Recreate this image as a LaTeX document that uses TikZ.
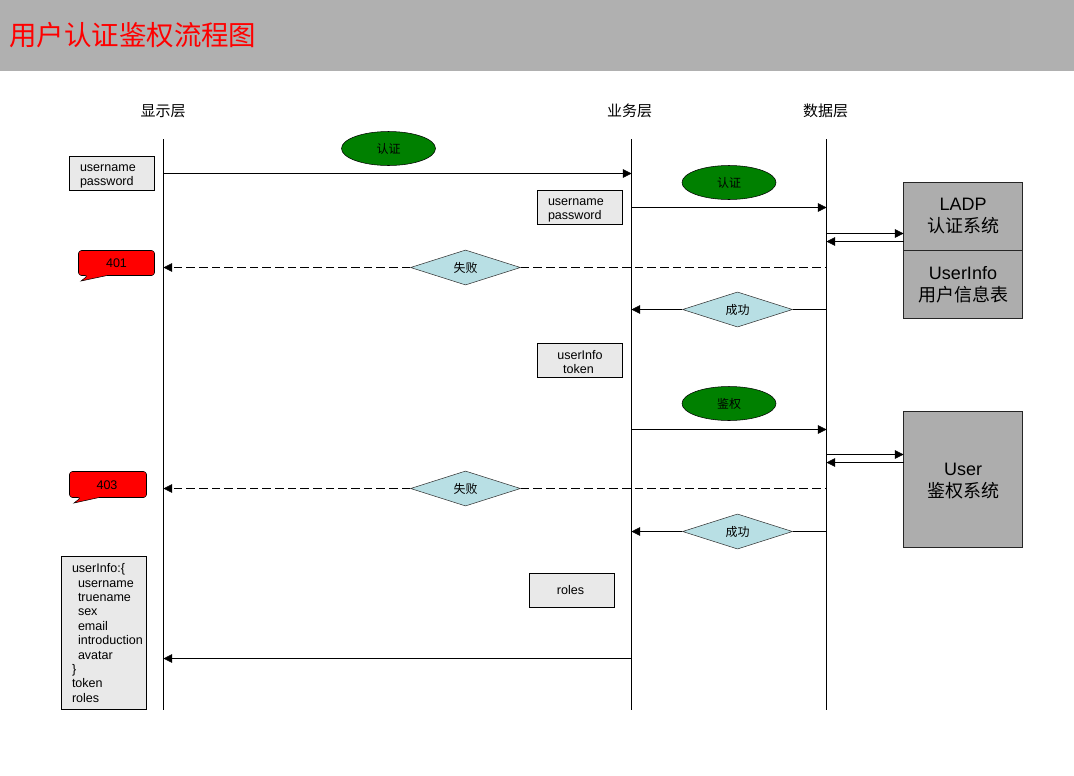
\documentclass[tikz,border=0pt]{standalone}
\usepackage{fontspec}
\setmainfont{Liberation Sans}
\newfontfamily\cjk{Noto Sans CJK SC}
\usetikzlibrary{arrows.meta,shapes.geometric}
\definecolor{band}{HTML}{B0B0B0}
\definecolor{boxgray}{HTML}{E9E9E9}
\definecolor{sysgray}{HTML}{ADADAD}
\definecolor{leaf}{HTML}{008000}
\definecolor{pale}{HTML}{B8DFE4}
\newcommand{\dropline}{\rule{0pt}{9.2pt}}
\tikzset{
  x=0.75pt,y=-0.75pt,
  line width=0.75pt,
  life/.style={draw=black},
  msg/.style={draw=black,-{Triangle[length=6.5pt,width=6.5pt]}},
  dsh/.style={dash pattern=on 6.5pt off 3pt},
  txtsmall/.style={font=\fontsize{9.4}{10.5}\selectfont},
  leftbox/.style={draw=black,fill=boxgray,txtsmall,minimum width=63.75pt,minimum height=25.5pt,inner xsep=7.9pt,inner ysep=0pt,text width=48pt,align=left},
  midbox/.style={draw=black,fill=boxgray,txtsmall,minimum width=63.75pt,minimum height=25.5pt,inner sep=0pt,align=center},
  pill/.style={ellipse,draw=black,fill=leaf,minimum width=70.5pt,minimum height=25.5pt,inner sep=0pt,font=\cjk\fontsize{9}{10.5}\selectfont},
  gem/.style={diamond,draw=black!80,fill=pale,minimum width=82.5pt,minimum height=25.5pt,inner sep=0pt,font=\cjk\fontsize{9}{10.5}\selectfont},
  sysbox/.style={draw=black!85,fill=sysgray,minimum width=89.25pt,inner sep=0pt,align=center,font=\fontsize{13.5}{16.5}\selectfont},
  head/.style={inner sep=0pt,font=\cjk\fontsize{11.25}{13}\selectfont},
  bubble/.style={draw=black,fill=red},
  bubtext/.style={inner sep=0pt,txtsmall},
}
\begin{document}
\begin{tikzpicture}
\useasboundingbox (0,0) rectangle (1074,775);
\fill[band] (0,0) rectangle (1074,71);
\node[anchor=west,inner sep=0pt,text=red,font=\cjk\fontsize{20.6}{24}\selectfont] (title) at (9,35.5) {用户认证鉴权流程图};

\node[head] (h1) at (163,111) {显示层};
\node[head] (h2) at (629.5,111) {业务层};
\node[head] (h3) at (825.5,111) {数据层};

% lifelines
\coordinate (l1t) at (163.5,139); \coordinate (l1b) at (163.5,710);
\coordinate (l2t) at (631.5,139); \coordinate (l2b) at (631.5,710);
\coordinate (l3t) at (826.5,139); \coordinate (l3b) at (826.5,710);
\draw[life] (l1t) -- (l1b);
\draw[life] (l2t) -- (l2b);
\draw[life] (l3t) -- (l3b);

% boxes
\node[leftbox] (b1) at (112,173.5) {\dropline username\\password};
\node[leftbox] (b2) at (580,207.5) {\dropline username\\password};
\node[midbox] (b3) at (580,360.5) {\dropline userInfo\\\mbox{token\kern2.25pt}};
\node[midbox] (b4) at (572,590.5) {\mbox{roles\kern2.25pt}};
\node[leftbox,minimum height=114.75pt,font=\fontsize{9.4}{10.8}\selectfont] (b5) at (104,633) {userInfo:\{\\
\hspace*{4.5pt}username\\
\hspace*{4.5pt}truename\\
\hspace*{4.5pt}sex\\
\hspace*{4.5pt}email\\
\hspace*{4.5pt}\mbox{introduction}\\
\hspace*{4.5pt}avatar\\
\}\\
token\\
roles};

% ellipses
\node[pill] (e1) at (388.5,148.5) {认证};
\node[pill] (e2) at (729,182.5) {认证};
\node[pill] (e3) at (729,403.5) {鉴权};

% systems
\node[sysbox,minimum height=51pt] (s1) at (963,216.5) {LADP\\{\cjk 认证系统}};
\node[sysbox,minimum height=51pt] (s2) at (963,284.5) {UserInfo\\{\cjk 用户信息表}};
\node[sysbox,minimum height=102pt] (s3) at (963,479.5) {\rule{0pt}{12pt}User\\{\cjk 鉴权系统}};

% speech bubbles
\draw[bubble,rounded corners=2.2pt] (107,275.5) -- (154.5,275.5) -- (154.5,250.5) -- (78.5,250.5) -- (78.5,275.5) -- (88,275.5) [sharp corners] -- (81,281) -- cycle;
\node[bubtext] (n401) at (116.5,263.5) {401};
\draw[bubble,rounded corners=2.2pt] (99,497.5) -- (146.5,497.5) -- (146.5,471.5) -- (69.5,471.5) -- (69.5,497.5) -- (81,497.5) [sharp corners] -- (74,503) -- cycle;
\node[bubtext] (n403) at (107,485.5) {403};

% diamonds
\node[gem] (f1) at (465.5,267.5) {失败};
\node[gem] (o1) at (737.5,309.5) {成功};
\node[gem] (f2) at (465.5,488.5) {失败};
\node[gem] (o2) at (737.5,531.5) {成功};

% message anchors
\coordinate (a1s) at (163.5,173.5); \coordinate (a1e) at (631.5,173.5);
\coordinate (a2s) at (631.5,207.5); \coordinate (a2e) at (826.5,207.5);
\coordinate (a3s) at (826.5,233.5); \coordinate (a3e) at (903.5,233.5);
\coordinate (a4s) at (903.5,241.5); \coordinate (a4e) at (826.5,241.5);
\coordinate (a5s) at (826.5,267.5); \coordinate (a5e) at (163.5,267.5);
\coordinate (a6s) at (826.5,309.5); \coordinate (a6e) at (631.5,309.5);
\coordinate (a7s) at (631.5,429.5); \coordinate (a7e) at (826.5,429.5);
\coordinate (a8s) at (826.5,454.5); \coordinate (a8e) at (903.5,454.5);
\coordinate (a9s) at (903.5,462.5); \coordinate (a9e) at (826.5,462.5);
\coordinate (a10s) at (826.5,488.5); \coordinate (a10e) at (163.5,488.5);
\coordinate (a11s) at (826.5,531.5); \coordinate (a11e) at (631.5,531.5);
\coordinate (a12s) at (631.5,658.5); \coordinate (a12e) at (163.5,658.5);

\draw[msg] (a1s) -- (a1e);
\draw[msg] (a2s) -- (a2e);
\draw[msg] (a3s) -- (a3e);
\draw[msg] (a4s) -- (a4e);
\draw[dsh] (f1) -- (a5s);
\draw[msg,dsh] (f1) -- (a5e);
\draw (a6s) -- (o1);
\draw[msg] (o1) -- (a6e);
\draw[msg] (a7s) -- (a7e);
\draw[msg] (a8s) -- (a8e);
\draw[msg] (a9s) -- (a9e);
\draw[dsh] (f2) -- (a10s);
\draw[msg,dsh] (f2) -- (a10e);
\draw (a11s) -- (o2);
\draw[msg] (o2) -- (a11e);
\draw[msg] (a12s) -- (a12e);
\end{tikzpicture}
\end{document}
